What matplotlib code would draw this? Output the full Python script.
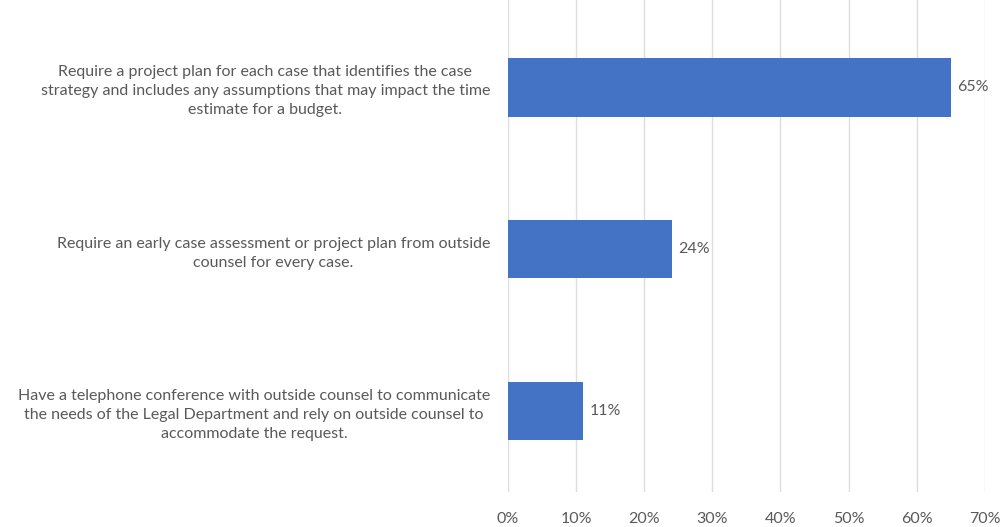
import matplotlib.pyplot as plt
from matplotlib.ticker import PercentFormatter

plt.rcParams['font.family'] = ['Lato', 'DejaVu Sans']

labels = [
    'Require a project plan for each case that identifies the case\n'
    'strategy and includes any assumptions that may impact the time\n'
    'estimate for a budget.',
    'Require an early case assessment or project plan from outside\n'
    'counsel for every case.',
    'Have a telephone conference with outside counsel to communicate\n'
    'the needs of the Legal Department and rely on outside counsel to\n'
    'accommodate the request.',
]
values = [65, 24, 11]
xticks = [0, 10, 20, 30, 40, 50, 60, 70]

text_color = '#595959'
bar_color = '#4472C4'

fig = plt.figure(figsize=(10.08, 5.27), dpi=100)
ax = fig.add_axes([0.504, 0.066, 0.473, 0.934])

pos = list(range(len(values)))
ax.barh(pos, values, height=0.36, color=bar_color, zorder=3)

for p, v in zip(pos, values):
    ax.text(v + 1.0, p, f'{v}%', va='center', ha='left', fontsize=11.5, color=text_color)

ax.set_xlim(0, 70)
ax.set_ylim(2.5, -0.54)
ax.set_xticks(xticks)
ax.xaxis.set_major_formatter(PercentFormatter(decimals=0))
ax.set_yticks(pos)
ax.set_yticklabels(labels, multialignment='center', fontsize=11.5, color=text_color,
                   linespacing=1.45)
ax.tick_params(axis='y', length=0, pad=13)
ax.tick_params(axis='x', length=0, pad=14, labelsize=11.5, labelcolor=text_color)

ax.grid(axis='x', color='#dedede', linewidth=1, zorder=0)
for s in ax.spines.values():
    s.set_visible(False)

fig.savefig('out.png', dpi=100)
